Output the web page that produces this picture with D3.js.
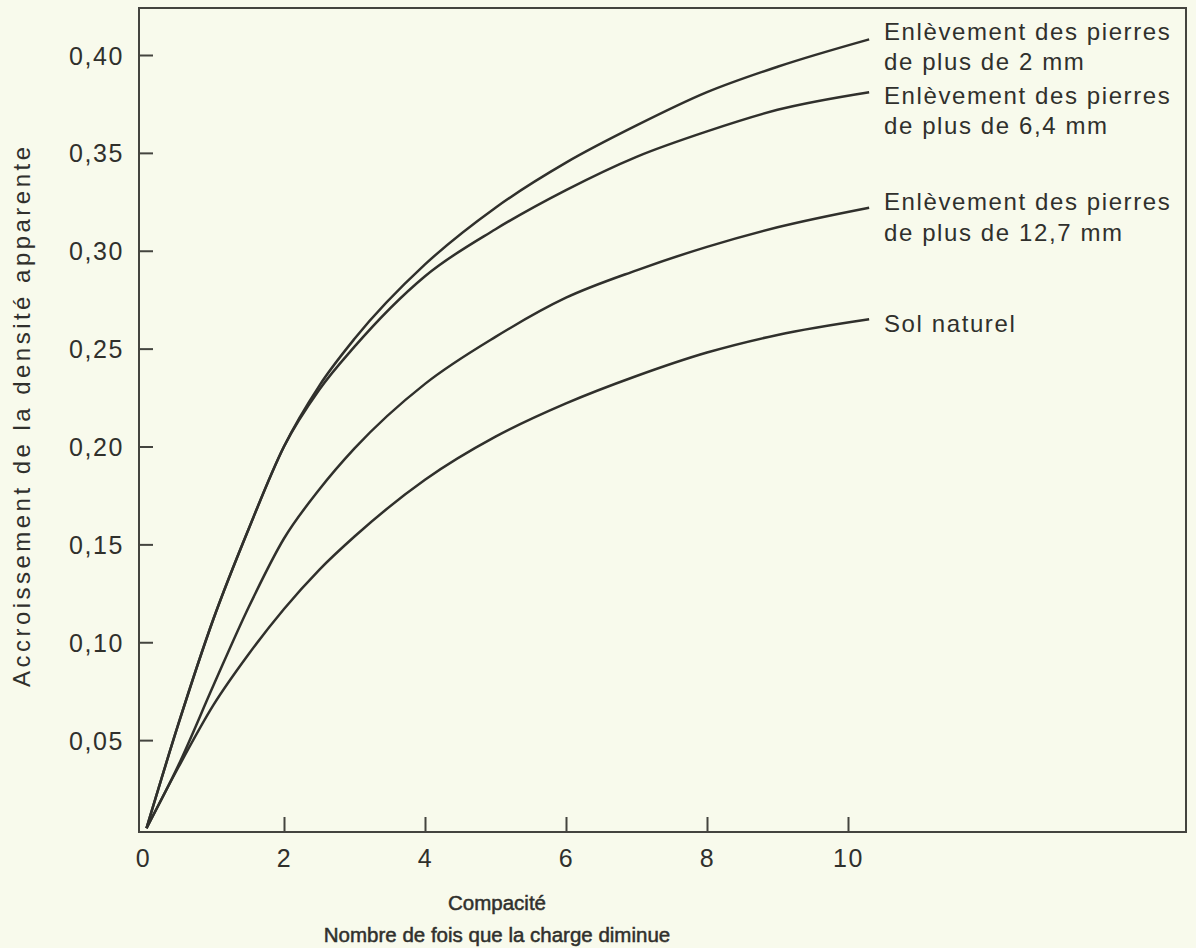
<!DOCTYPE html>
<html>
<head>
<meta charset="utf-8">
<script src="https://cdn.jsdelivr.net/npm/d3@7"></script>
<style>
  body { margin: 0; background: #f8faec; }
  svg { display: block; }
</style>
</head>
<body>
<svg width="1196" height="948"></svg>
<script>
// compacité (nombre de passes) -- common x grid
var compacite = [0.05, 0.5, 1, 1.5, 2, 2.5, 3, 4, 5, 6, 7, 8, 9, 10.3];

// accroissement de la densité apparente, one array per curve
var pierres2mm   = [0.005, 0.058, 0.112, 0.158, 0.200, 0.231, 0.255, 0.293, 0.322, 0.345, 0.364, 0.381, 0.394, 0.408];
var pierres64mm  = [0.005, 0.058, 0.112, 0.158, 0.200, 0.229, 0.251, 0.287, 0.311, 0.331, 0.348, 0.361, 0.372, 0.381];
var pierres127mm = [0.005, 0.037, 0.078, 0.118, 0.153, 0.178, 0.199, 0.232, 0.256, 0.276, 0.290, 0.302, 0.312, 0.322];
var solNaturel   = [0.005, 0.036, 0.068, 0.094, 0.117, 0.137, 0.154, 0.183, 0.205, 0.222, 0.236, 0.248, 0.257, 0.265];

var seriesNames = [
  ["Enlèvement des pierres", "de plus de 2 mm"],
  ["Enlèvement des pierres", "de plus de 6,4 mm"],
  ["Enlèvement des pierres", "de plus de 12,7 mm"],
  ["Sol naturel"]
];
var seriesValues = [pierres2mm, pierres64mm, pierres127mm, solNaturel];

var xTicks = [2, 4, 6, 8, 10];
var yTicks = [0.05, 0.10, 0.15, 0.20, 0.25, 0.30, 0.35, 0.40];
var yTickLabels = ["0,05", "0,10", "0,15", "0,20", "0,25", "0,30", "0,35", "0,40"];

var svg = d3.select("svg");
var ink = "#30302c";
var font = "'Liberation Sans', Arial, sans-serif";

var frame = {left: 139, right: 1186, top: 8, bottom: 832};

var x = d3.scaleLinear().domain([0, 10]).range([143, 848]);
var y = d3.scaleLinear().domain([0, 0.40]).range([838, 55]);

// frame
svg.append("rect")
  .attr("x", frame.left)
  .attr("y", frame.top)
  .attr("width", frame.right - frame.left)
  .attr("height", frame.bottom - frame.top)
  .attr("fill", "none")
  .attr("stroke", "#44443f")
  .attr("stroke-width", 2);

// y axis ticks (inside) + labels
var yAxis = svg.append("g")
  .attr("transform", "translate(" + frame.left + ",0)")
  .call(d3.axisRight(y).tickValues(yTicks).tickSize(14)
    .tickFormat(function(d, i) { return yTickLabels[i]; }));
yAxis.select(".domain").remove();
yAxis.selectAll(".tick line").attr("stroke", "#44443f").attr("stroke-width", 2);
yAxis.selectAll(".tick text")
  .attr("x", -15)
  .attr("text-anchor", "end")
  .attr("dy", "0.36em")
  .attr("fill", ink)
  .style("font-family", font)
  .style("font-size", "25px")
  .style("letter-spacing", "1.6px");

// x axis ticks (inside) + labels
var xAxis = svg.append("g")
  .attr("transform", "translate(0," + frame.bottom + ")")
  .call(d3.axisTop(x).tickValues([0].concat(xTicks)).tickSize(15));
xAxis.select(".domain").remove();
xAxis.selectAll(".tick line")
  .attr("stroke", "#44443f").attr("stroke-width", 2)
  .attr("display", function(d) { return d === 0 ? "none" : null; });
xAxis.selectAll(".tick text")
  .attr("y", 26)
  .attr("dy", "0.36em")
  .attr("fill", ink)
  .style("font-family", font)
  .style("font-size", "25px")
  .style("letter-spacing", "1.6px")
  .text(function(d) { return d; });

// curves
var line = d3.line()
  .x(function(d) { return x(d[0]); })
  .y(function(d) { return y(d[1]); })
  .curve(d3.curveMonotoneX);

var labelOffsets = [-8, 3, -6, 4];

seriesValues.forEach(function(vals, k) {
  var pts = compacite.map(function(c, i) { return [c, vals[i]]; });
  svg.append("path")
    .datum(pts)
    .attr("d", line)
    .attr("fill", "none")
    .attr("stroke", ink)
    .attr("stroke-width", 2.5);

  var last = pts[pts.length - 1];
  var t = svg.append("text")
    .attr("x", 884)
    .attr("y", y(last[1]) + labelOffsets[k])
    .attr("fill", ink)
    .style("font-family", font)
    .style("font-size", "24px")
    .style("letter-spacing", "1.6px");
  seriesNames[k].forEach(function(s, j) {
    t.append("tspan")
      .attr("x", 884)
      .attr("dy", j === 0 ? "0.36em" : "1.27em")
      .text(s);
  });
});

// axis titles
svg.append("text")
  .attr("transform", "translate(30,417) rotate(-90)")
  .attr("text-anchor", "middle")
  .attr("fill", ink)
  .attr("textLength", 540)
  .attr("lengthAdjust", "spacing")
  .style("font-family", font)
  .style("font-size", "24px")
  .text("Accroissement de la densité apparente");

svg.append("text")
  .attr("x", 497)
  .attr("y", 910)
  .attr("text-anchor", "middle")
  .attr("fill", ink)
  .attr("stroke", ink)
  .attr("stroke-width", 0.5)
  .style("font-family", font)
  .style("font-size", "20.5px")
  .text("Compacité");

svg.append("text")
  .attr("x", 497)
  .attr("y", 942)
  .attr("text-anchor", "middle")
  .attr("fill", ink)
  .attr("stroke", ink)
  .attr("stroke-width", 0.5)
  .style("font-family", font)
  .style("font-size", "20.5px")
  .text("Nombre de fois que la charge diminue");
</script>
</body>
</html>
